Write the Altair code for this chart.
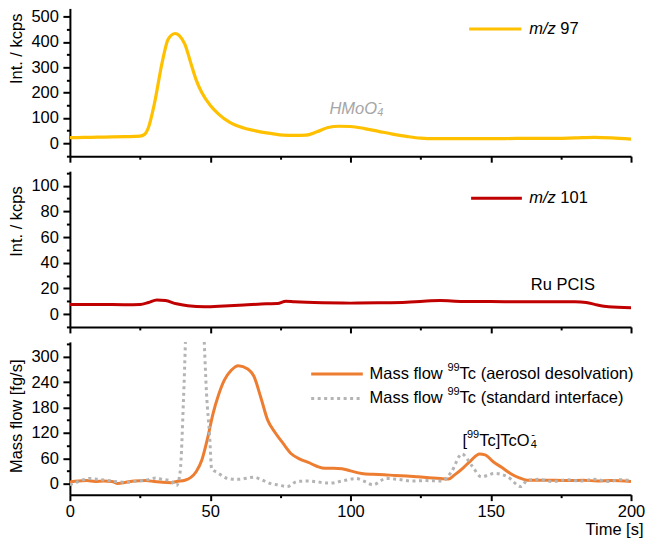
import altair as alt
import pandas as pd

# ---------------- data ----------------
# m/z 97 (top panel)
t97 = [0, 5, 10, 15, 20, 25, 26.5, 28, 30, 33, 35, 37.5, 39, 41, 43, 45, 47, 50, 53, 57,
       62, 67, 72, 76, 80, 84, 88, 92, 96, 100, 105, 110, 115, 120, 125, 130, 140, 150,
       160, 170, 180, 187, 193, 200]
v97 = [22, 23, 24, 25, 26, 28, 34, 62, 150, 325, 410, 433, 425, 390, 320, 250, 200, 150, 115, 82,
       60, 47, 38, 32, 31, 32, 45, 62, 67, 66, 58, 47, 36, 27, 20, 18, 18, 18,
       19, 19, 21, 23, 21, 16]

# m/z 101 (middle panel)
t101 = [0, 10, 20, 25, 28, 31, 34, 38, 42, 48, 55, 62, 70, 74, 77, 80, 90, 100, 110, 120,
        126, 132, 140, 150, 160, 170, 180, 184, 188, 192, 200]
v101 = [7.5, 7.5, 7.3, 7.5, 9, 11, 10.5, 8, 6.5, 5.6, 6.2, 7, 8, 8.2, 10, 9.5, 8.7, 8.5, 8.7, 9.2,
        10, 10.5, 9.8, 9.8, 9.5, 9.6, 9.5, 9, 7, 5.6, 4.8]

# Mass flow 99Tc, aerosol desolvation (bottom panel)
t_ad = [0, 3, 6, 9, 12, 15, 17, 20, 23, 27, 30, 33, 36, 38, 41, 43, 45, 47, 49, 51,
        53, 55, 57.5, 60, 63.4, 65.5, 68, 70.5, 73, 76, 79, 82, 85, 88, 91, 94, 97, 100,
        104, 108, 112, 116, 120, 124, 128, 132, 135, 137, 140, 143, 146, 148, 151, 154, 157,
        160, 163, 168, 173, 178, 183, 188, 193, 200]
v_ad = [4, 6, 7, 5, 6, 5, 0, 3, 6, 7, 5, 3, 2, 5, 8, 14, 28, 55, 105, 165,
        210, 244, 268, 279, 271, 255, 205, 150, 122, 95, 70, 58, 50, 41, 36, 36, 35, 30,
        24, 22, 21, 19, 18, 16, 14, 12, 11, 20, 36, 55, 70, 68, 51, 38, 24,
        14, 8, 8, 8, 7, 8, 6, 7, 5]

# Mass flow 99Tc, standard interface (bottom panel, clipped at the top)
t_si = [0, 3, 7, 10, 13, 16, 20, 24, 27, 30.5, 33, 36, 38, 39.3, 40.5, 42, 44, 46, 47.5, 48.7,
        49.8, 50.5, 52.8, 56.3, 60, 65.7, 68, 71.6, 74, 77.5, 81, 85, 88, 92.7, 97, 102, 105,
        108, 112.7, 117, 122, 127, 132.6, 136, 139.7, 143.2, 146.7, 151.4, 156, 160.8, 163,
        167, 172, 177, 182, 187, 192, 196, 200]
v_si = [-3, 5, 12, 10, 8, 5, 3, 6, 8, 13, 10, 6, -5, 28, 200, 500, 700, 650, 400, 213,
        113, 36, 25, 12, 10, 15, 10, 0, -3, -7, 5, 6, 4, 1, 6, 12, 5,
        -3, 12, 10, 6, 7, 6, 28, 70, 43, 16, 24, 16, -7, 8,
        10, 5, 9, 6, 10, 5, 9, 7]

x_major = [0, 50, 100, 150, 200]
x_minor = [25, 75, 125, 175]
y97_major = [0, 100, 200, 300, 400, 500]
y97_minor = [-50, 50, 150, 250, 350, 450]
y101_major = [0, 20, 40, 60, 80, 100]
y101_minor = [-10, 10, 30, 50, 70, 90, 110]
ymf_major = [0, 60, 120, 180, 240, 300]
ymf_minor = [-30, 30, 90, 150, 210, 270, 330]

# ---------------- styling ----------------
FONT = "Liberation Sans"
FS = 16.5
SMALL = 11
GOLD = "#FFC000"
RED = "#C00000"
ORANGE = "#ED7D31"
GREY = "#B4B4B4"
GREY_TXT = "#A6A6A6"
W = 562
X_SCALE = alt.Scale(domain=[0, 200], nice=False, zero=False)
dummy = pd.DataFrame({"a": [0]})


def x_major_axis(labels, title=None):
    kw = dict(values=x_major, orient="bottom", labels=labels, grid=False,
              labelFont=FONT, labelFontSize=FS, labelColor="black", labelPadding=3,
              labelFlush=False, labelOverlap=False,
              tickSize=6, tickWidth=2, tickColor="black",
              domainColor="black", domainWidth=2)
    if title:
        kw.update(title=title, titleFont=FONT, titleFontSize=FS, titleFontWeight="normal",
                  titleColor="black", titleX=574, titleY=35, titleAlign="right",
                  titleBaseline="middle", titleAngle=0)
    else:
        kw.update(title=None)
    return alt.Axis(**kw)


def x_minor_axis():
    return alt.Axis(values=x_minor, orient="bottom", labels=False, domain=False, grid=False,
                    tickSize=3, tickWidth=2, tickColor="black", title=None)


def y_major_axis(values, title, title_y):
    return alt.Axis(values=values, orient="left", grid=False,
                    labelFont=FONT, labelFontSize=FS, labelColor="black", labelPadding=4.5,
                    labelFlush=False, labelOverlap=False,
                    tickSize=7, tickWidth=2, tickColor="black",
                    domainColor="black", domainWidth=2,
                    title=title, titleFont=FONT, titleFontSize=FS, titleFontWeight="normal",
                    titleColor="black", titleAngle=270, titleX=-53, titleY=title_y,
                    titleAlign="center", titleBaseline="middle")


def y_minor_axis(values):
    return alt.Axis(values=values, orient="left", labels=False, domain=False, grid=False,
                    tickSize=3.5, tickWidth=2, tickColor="black", title=None)


def txt(x, y, text, dx=0, dy=0, size=FS, italic=False, color="black"):
    return alt.Chart(dummy).mark_text(
        text=text, dx=dx, dy=dy, font=FONT, fontSize=size, align="left", baseline="middle",
        fontStyle="italic" if italic else "normal", color=color
    ).encode(x=alt.XDatum(x, type="quantitative", axis=None),
             y=alt.YDatum(y, type="quantitative", axis=None))


def legend_rule(x1, x2, y, color, dash=None):
    kw = dict(color=color, strokeWidth=3)
    if dash:
        kw["strokeDash"] = dash
    return alt.Chart(dummy).mark_rule(**kw).encode(
        x=alt.XDatum(x1, type="quantitative", axis=None),
        x2=alt.X2Datum(x2),
        y=alt.YDatum(y, type="quantitative", axis=None))


def panel(series, y_dom, y_major, y_minor, y_title, title_y, height, x_labels, x_title=None,
          extras=()):
    layers = []
    first = True
    for df, style in series:
        enc_x = alt.X("t:Q", scale=X_SCALE,
                      axis=x_major_axis(x_labels, x_title) if first else None)
        enc_y = alt.Y("v:Q", scale=alt.Scale(domain=y_dom, nice=False, zero=False),
                      axis=y_major_axis(y_major, y_title, title_y) if first else None)
        layers.append(alt.Chart(df).mark_line(clip=True, interpolate="monotone", **style)
                      .encode(x=enc_x, y=enc_y))
        first = False
    df0 = series[0][0]
    layers.append(alt.Chart(df0).mark_line(opacity=0).encode(
        x=alt.X("t:Q", axis=x_minor_axis()),
        y=alt.Y("v:Q", axis=y_minor_axis(y_minor))))
    layers.extend(extras)
    return alt.layer(*layers).resolve_axis(x="independent", y="independent").properties(
        width=W, height=height)


df97 = pd.DataFrame({"t": t97, "v": v97})
df101 = pd.DataFrame({"t": t101, "v": v101})
dfad = pd.DataFrame({"t": t_ad, "v": v_ad})
dfsi = pd.DataFrame({"t": t_si, "v": v_si})

top = panel(
    [(df97, dict(color=GOLD, strokeWidth=3.2))],
    [-51, 532], y97_major, y97_minor, "Int. / kcps", 40, 148, False,
    extras=[
        legend_rule(142.3, 160.9, 451, GOLD),
        txt(163.7, 451, "m/z", italic=True),
        txt(163.7, 451, "97", dx=31.2),
        txt(92.5, 134.6, "HMoO", italic=True, color=GREY_TXT),
        txt(92.5, 134.6, "4", dx=48, dy=4, size=SMALL, italic=True, color=GREY_TXT),
        txt(92.5, 134.6, "-", dx=49, dy=-6, size=SMALL, color=GREY_TXT),
    ])

mid = panel(
    [(df101, dict(color=RED, strokeWidth=3))],
    [-10.05, 111.4], y101_major, y101_minor, "Int. / kcps", 50, 156, False,
    extras=[
        legend_rule(143, 161.1, 90.3, RED),
        txt(163.7, 90.3, "m/z", italic=True),
        txt(163.7, 90.3, "101", dx=31.2),
        txt(164.3, 22.7, "Ru PCIS"),
    ])

bot = panel(
    [(dfad, dict(color=ORANGE, strokeWidth=3)),
     (dfsi, dict(color=GREY, strokeWidth=3, strokeDash=[3, 3.5]))],
    [-26.2, 335.2], ymf_major, ymf_minor, "Mass flow [fg/s]", 74, 153, True, "Time [s]",
    extras=[
        legend_rule(86, 104.4, 259.4, ORANGE),
        legend_rule(86, 104.4, 201.5, GREY, dash=[3, 3.5]),
        txt(106.8, 259.4, "Mass flow"),
        txt(106.8, 259.4, "99", dx=78, dy=-6, size=SMALL),
        txt(106.8, 259.4, "Tc (aerosol desolvation)", dx=90.2),
        txt(106.8, 201.5, "Mass flow"),
        txt(106.8, 201.5, "99", dx=78, dy=-6, size=SMALL),
        txt(106.8, 201.5, "Tc (standard interface)", dx=90.2),
        txt(139.9, 101.2, "["),
        txt(139.9, 101.2, "99", dx=4.6, dy=-6, size=SMALL),
        txt(139.9, 101.2, "Tc]TcO", dx=16.8),
        txt(139.9, 101.2, "4", dx=68.5, dy=4, size=SMALL),
        txt(139.9, 101.2, "-", dx=69, dy=-6, size=SMALL),
    ])

chart = alt.vconcat(top, mid, bot, spacing=15, bounds="flush",
                    padding={"left": 1, "top": 0, "right": 0, "bottom": 0}
                    ).configure(background="white").configure_view(stroke=None)

chart.save("out.html", embed_options={"renderer": "svg", "actions": False})
